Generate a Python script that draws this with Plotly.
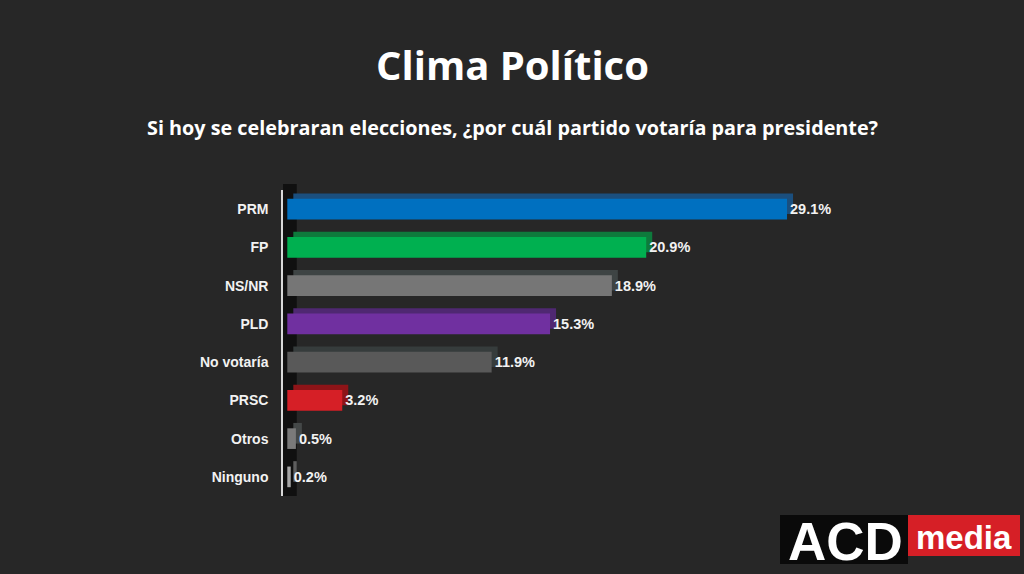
import plotly.graph_objects as go

# data
categories = ["PRM", "FP", "NS/NR", "PLD", "No votaría", "PRSC", "Otros", "Ninguno"]
values = [29.1, 20.9, 18.9, 15.3, 11.9, 3.2, 0.5, 0.2]
value_labels = ["29.1%", "20.9%", "18.9%", "15.3%", "11.9%", "3.2%", "0.5%", "0.2%"]

front_colors = ["#0070C0", "#00B050", "#767676", "#7030A0", "#595959", "#D61F26", "#7A7A7A", "#A6A6A6"]
depth_colors = ["#1B4F7E", "#0E7A3C", "#3E4444", "#4F2872", "#363C3C", "#8E1418", "#444848", "#5E5E5E"]

W, H = 1024, 574
L, R, T, B = 283, 170, 190, 78
PW, PH = W - L - R, H - T - B


def px(x):
    return (x - L) / PW


def py(y):
    return 1 - (y - T) / PH


BAR_W = 0.54
DEPTH_X = 0.35  # in % units
DEPTH_Y = 0.14  # in category units

fig = go.Figure()

# 3D depth (top + side faces) drawn behind the front faces
fig.add_bar(
    y=categories, x=values, base=[DEPTH_X] * len(values),
    orientation="h", width=BAR_W, offset=-BAR_W / 2 - DEPTH_Y,
    marker=dict(color=depth_colors, line=dict(width=0)),
    hoverinfo="skip", showlegend=False,
)
fig.add_bar(
    y=categories, x=values,
    orientation="h", width=BAR_W, offset=-BAR_W / 2,
    marker=dict(color=front_colors, line=dict(width=0)),
    text=value_labels, textposition="outside", cliponaxis=False,
    textfont=dict(family="Liberation Sans, Arial", size=14.5, color="#F2F2F2", weight="bold"),
    showlegend=False,
)

# left dark wall
fig.add_shape(type="rect", xref="x", yref="paper", x0=-0.25, x1=0.55, y0=0, y1=1.02,
              fillcolor="#101010", line=dict(width=0), layer="below")

fig.update_layout(
    width=W, height=H,
    margin=dict(l=L, r=R, t=T, b=B),
    paper_bgcolor="#272727", plot_bgcolor="rgba(0,0,0,0)",
    barmode="overlay",
    font=dict(family="Liberation Sans, Arial", color="#F2F2F2"),
    xaxis=dict(range=[-0.25, 33], showgrid=False, zeroline=False,
               showticklabels=False, fixedrange=True),
    yaxis=dict(autorange="reversed", showgrid=False, zeroline=False,
               showline=True, linecolor="#D9D9D9", linewidth=1.5,
               ticks="", ticklabelstandoff=10,
               tickfont=dict(family="Liberation Sans, Arial", size=14, color="#F2F2F2", weight="bold")),
    annotations=[
        dict(text="<b>Clima Político</b>", xref="paper", yref="paper",
             x=px(512), y=py(64), xanchor="center", yanchor="middle", showarrow=False,
             font=dict(family="Open Sans", size=40, color="#FFFFFF")),
        dict(text="<b>Si hoy se celebraran elecciones, ¿por cuál partido votaría para presidente?</b>",
             xref="paper", yref="paper", x=px(512), y=py(127), xanchor="center", yanchor="middle",
             showarrow=False, font=dict(family="Open Sans", size=19.8, color="#FFFFFF")),
        dict(text="<b>ACD</b>", xref="paper", yref="paper", x=px(845), y=py(541),
             xanchor="center", yanchor="middle", showarrow=False,
             font=dict(family="Liberation Sans, Arial", size=53, color="#FFFFFF")),
        dict(text="<b>media</b>", xref="paper", yref="paper", x=px(964), y=py(537),
             xanchor="center", yanchor="middle", showarrow=False,
             font=dict(family="Liberation Sans, Arial", size=33, color="#FFFFFF")),
    ],
)

# logo boxes
fig.add_shape(type="rect", xref="paper", yref="paper", x0=px(780), x1=px(908), y0=py(564), y1=py(515),
              fillcolor="#0A0A0A", line=dict(width=0), layer="below")
fig.add_shape(type="rect", xref="paper", yref="paper", x0=px(908), x1=px(1020), y0=py(556), y1=py(515),
              fillcolor="#D61F26", line=dict(width=0), layer="below")

fig.write_html("out.html", config={"displayModeBar": False},
               post_script="document.body.style.margin='0';document.body.style.background='#272727';")
